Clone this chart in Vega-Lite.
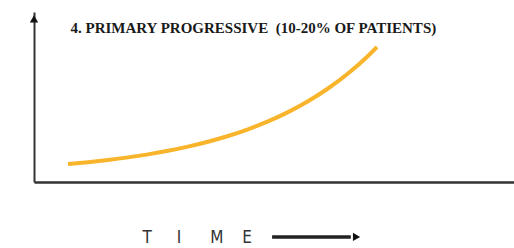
{
  "$schema": "https://vega.github.io/schema/vega-lite/v6.json",
  "autosize": {"type": "none"},
  "width": 480,
  "height": 170,
  "padding": {"left": 34, "top": 12, "right": 0, "bottom": 66},
  "background": "white",
  "config": {"view": {"stroke": null}},
  "datasets": {
    "curve": [
      {"t": 7.08, "v": 10.59}, {"t": 11.25, "v": 11.68}, {"t": 15.42, "v": 12.97},
      {"t": 19.58, "v": 14.48}, {"t": 23.75, "v": 16.26}, {"t": 27.92, "v": 18.35},
      {"t": 32.08, "v": 20.79}, {"t": 36.25, "v": 23.67}, {"t": 40.42, "v": 27.04},
      {"t": 44.58, "v": 31.0}, {"t": 48.75, "v": 35.64}, {"t": 52.92, "v": 41.09},
      {"t": 57.08, "v": 47.49}, {"t": 61.25, "v": 54.99}, {"t": 65.42, "v": 63.8},
      {"t": 69.58, "v": 74.14}, {"t": 71.46, "v": 79.41}
    ],
    "title": [{"t": 7.6, "v": 90.6, "label": "4. PRIMARY PROGRESSIVE\u00a0\u00a0(10-20% OF PATIENTS)"}],
    "letters": [
      {"t": 23.6, "v": -33.0, "ch": "T"},
      {"t": 30.2, "v": -33.0, "ch": "I"},
      {"t": 38.1, "v": -33.0, "ch": "M"},
      {"t": 44.4, "v": -33.0, "ch": "E"}
    ],
    "arrow": [{"t": 49.6, "t2": 66.0, "v": -32.3}],
    "heads": [
      {"t": 67.2, "v": -32.3, "dir": "triangle-right"},
      {"t": 0, "v": 96.0, "dir": "triangle-up"}
    ]
  },
  "encoding": {
    "x": {"field": "t", "type": "quantitative", "scale": {"domain": [0, 100], "nice": false, "zero": false},
      "axis": {"domain": true, "domainColor": "#333333", "domainWidth": 2.5, "ticks": false, "labels": false, "grid": false, "title": null}},
    "y": {"field": "v", "type": "quantitative", "scale": {"domain": [0, 100], "nice": false, "zero": false},
      "axis": {"domain": true, "domainColor": "#333333", "domainWidth": 2, "ticks": false, "labels": false, "grid": false, "title": null}}
  },
  "layer": [
    {
      "data": {"name": "curve"},
      "mark": {"type": "line", "interpolate": "monotone", "color": "#F8B42A", "strokeWidth": 4, "clip": false}
    },
    {
      "data": {"name": "title"},
      "mark": {"type": "text", "align": "left", "baseline": "middle", "font": "Liberation Serif", "fontWeight": "bold", "fontSize": 15, "color": "#1a1a1a", "clip": false},
      "encoding": {"text": {"field": "label"}}
    },
    {
      "data": {"name": "letters"},
      "mark": {"type": "text", "align": "center", "baseline": "middle", "font": "DejaVu Sans Condensed", "fontSize": 17, "color": "#333333", "clip": false},
      "encoding": {"text": {"field": "ch"}}
    },
    {
      "data": {"name": "arrow"},
      "mark": {"type": "rule", "color": "#222222", "strokeWidth": 3.5, "clip": false},
      "encoding": {"x2": {"field": "t2"}}
    },
    {
      "data": {"name": "heads"},
      "mark": {"type": "point", "filled": true, "color": "#111111", "opacity": 1, "size": 70, "clip": false},
      "encoding": {"shape": {"field": "dir", "type": "nominal", "scale": null}}
    }
  ]
}
